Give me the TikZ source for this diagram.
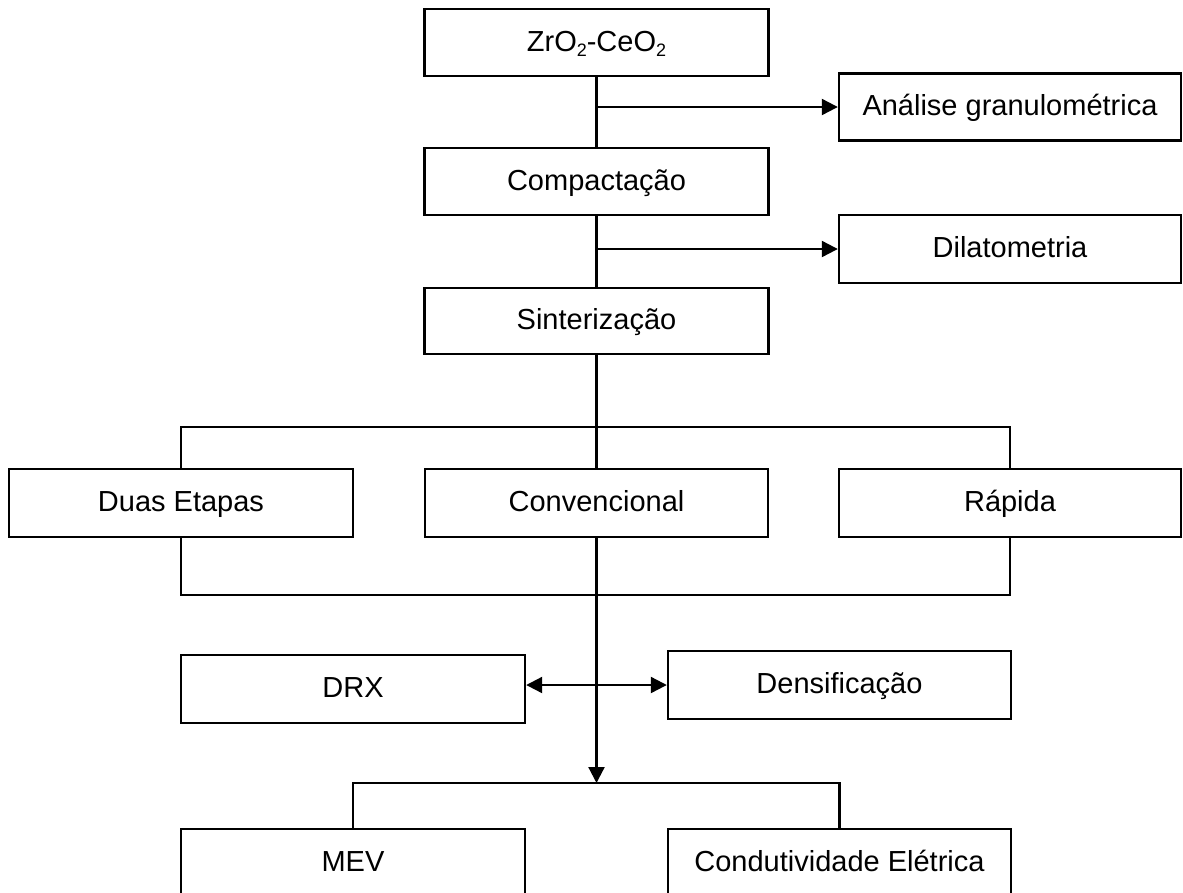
\documentclass[tikz,border=0pt]{standalone}
\usepackage{fontspec}
\setmainfont{Liberation Sans}
\usetikzlibrary{arrows.meta}
\newcommand{\subtwo}{\raisebox{-5pt}{\fontsize{18}{20}\selectfont 2}}
\begin{document}
\begin{tikzpicture}[x=1pt,y=-1pt,
  box/.style={draw,line width=2.4pt,rectangle,inner sep=0pt,
    font=\fontsize{29}{34}\selectfont,text height=22pt,text depth=5pt},
  wbox/.style={box,minimum width=343pt,minimum height=67pt},
  conn/.style={line width=2.2pt},
  tip/.tip={Triangle[length=16pt,width=16pt]},
  arr/.style={conn,-tip},
  darr/.style={conn,tip-tip}]
\useasboundingbox (0,0) rectangle (1183,892);
\clip (0,0) rectangle (1183,892);
\node[wbox,minimum width=344pt] (zr) at (596.5,42.5) {ZrO\subtwo-CeO\subtwo};
\node[wbox,minimum width=342pt] (ana) at (1010,107) {Análise granulométrica};
\node[wbox,minimum width=344pt] (comp) at (596.5,181.5) {Compactação};
\node[wbox,minimum width=342pt,minimum height=68pt] (dil) at (1010,249) {Dilatometria};
\node[wbox,minimum width=344pt,minimum height=66pt] (sint) at (596.5,321) {Sinterização};
\node[wbox,minimum width=344pt,minimum height=68pt] (duas) at (181,503) {Duas Etapas};
\node[wbox,minimum width=343pt,minimum height=68pt] (conv) at (596.5,503) {Convencional};
\node[wbox,minimum width=342pt,minimum height=68pt] (rap) at (1010,503) {Rápida};
\node[wbox,minimum width=344pt,minimum height=68pt] (drx) at (353,689) {DRX};
\node[wbox,minimum width=343pt,minimum height=68pt] (dens) at (839.5,685) {Densificação};
\node[wbox,minimum width=344pt,minimum height=67pt] (mev) at (353,862.5) {MEV};
\node[wbox,minimum width=343pt,minimum height=67pt] (cond) at (839.5,862.5) {Condutividade Elétrica};
\coordinate (b1) at (596.5,427);
\coordinate (b2) at (596.5,595);
\coordinate (b3) at (596.5,783);
\draw[conn] (zr.south) -- (comp.north);
\draw[arr] (zr.south |- ana.west) -- (ana.west);
\draw[conn] (comp.south) -- (sint.north);
\draw[arr] (comp.south |- dil.west) -- (dil.west);
\draw[conn] (sint.south) -- (conv.north);
\draw[conn] (duas.north) |- (b1) -| (rap.north);
\draw[conn] (duas.south) |- (b2) -| (rap.south);
\draw[conn] (conv.south) -- (b2);
\draw[arr] (b2) -- (b3);
\draw[darr] (drx.east |- dens.west) -- (dens.west);
\draw[conn] (mev.north) |- (b3) -| (cond.north);
\end{tikzpicture}
\end{document}
